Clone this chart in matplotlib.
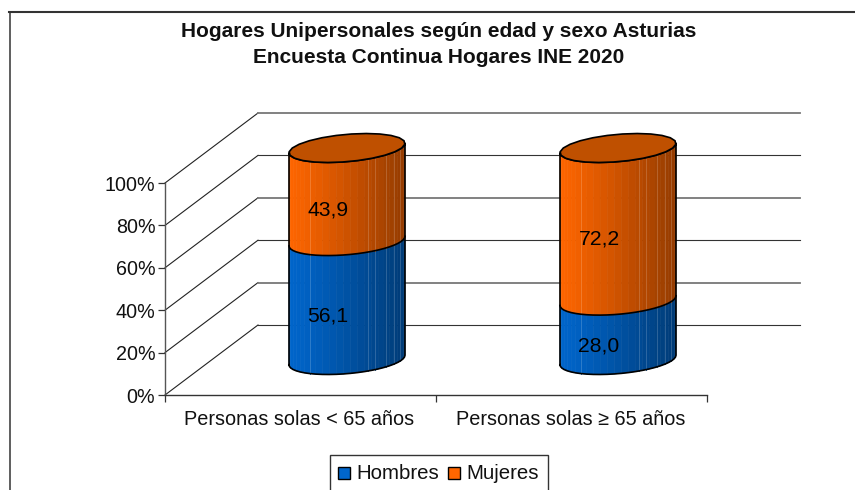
import numpy as np
import matplotlib
matplotlib.use("Agg")
import matplotlib.pyplot as plt
from matplotlib.patches import Polygon, Rectangle

plt.rcParams["font.family"] = ["Liberation Sans", "DejaVu Sans"]

categories = ["Personas solas < 65 años", "Personas solas ≥ 65 años"]
series_names = ["Hombres", "Mujeres"]
hombres = [56.1, 28.0]
mujeres = [43.9, 72.2]
labels_hombres = ["56,1", "28,0"]
labels_mujeres = ["43,9", "72,2"]
y_ticks = [0, 20, 40, 60, 80, 100]
title = "Hogares Unipersonales según edad y sexo Asturias\nEncuesta Continua Hogares INE 2020"

W, H = 855, 490
# floor of the 3d box, in data units per unit of depth
DEPTH_X = 93 / 271
DEPTH_Y = 70 / 2.12
# cylinder radius along the category axis / along the depth axis
RAD_X = 54.7 / 271
RAD_D = 0.207

COL_BLUE = np.array([0, 102, 204]) / 255
COL_ORANGE = np.array([255, 102, 0]) / 255
SEAMS = [21 / 116, 79 / 116, 86 / 116, 97 / 116, 105 / 116, 111 / 116]

fig = plt.figure(figsize=(W / 100, H / 100), dpi=100)
ax = fig.add_axes([165 / W, 1 - 395 / H, 542 / W, 212 / H])
ax.set_xlim(0, 2)
ax.set_ylim(0, 100)
ax.patch.set_visible(False)


def project(cat, pct, depth):
    return cat + depth * DEPTH_X, pct + depth * DEPTH_Y


def ring(center, pct, t):
    x = center + RAD_X * np.cos(t)
    d = 0.5 + RAD_D * np.sin(t)
    return project(x, pct, d)


def shade(base, frac):
    return base * (1 - 0.42 * frac ** 1.1)


def draw_segment(center, low, high, base):
    # front half of the wall, split in facets
    t0 = np.arctan2(RAD_D * DEPTH_X, RAD_X)
    u = np.linspace(0, np.pi, 26)
    t = t0 + np.pi + u
    xs, ys_low = ring(center, low, t)
    _, ys_high = ring(center, high, t)
    left, right = xs.min(), xs.max()
    for i in range(len(t) - 1):
        frac = ((xs[i] + xs[i + 1]) / 2 - left) / (right - left)
        quad = [(xs[i], ys_low[i]), (xs[i + 1], ys_low[i + 1]),
                (xs[i + 1], ys_high[i + 1]), (xs[i], ys_high[i])]
        ax.add_patch(Polygon(quad, closed=True, fc=shade(base, frac), ec=shade(base, frac),
                             lw=0.4, clip_on=False, zorder=3))
    for s in SEAMS:
        sx = left + s * (right - left)
        seam_low = np.interp(sx, xs, ys_low)
        seam_high = np.interp(sx, xs, ys_high)
        col = shade(base, s) * 0.82 + 0.18
        ax.plot([sx, sx], [seam_low, seam_high], color=col, lw=0.7, clip_on=False, zorder=3.5)
    return xs, ys_low, ys_high


# back wall gridlines and side wall diagonals
for i, v in enumerate(y_ticks):
    x0, y0 = project(0, v, 0)
    x1, y1 = project(0, v, 1)
    x2, y2 = project(2, v, 1)
    ax.plot([x0, x1], [y0, y1], color="#222222", lw=0.8, clip_on=False, zorder=1)
    if i % 2 == 0:
        ax.plot([x1, x2], [y1, y2], color="#333333", lw=0.8, clip_on=False, zorder=1)
    else:
        ax.plot([x1, x2], [y1, y2], color="#777777", lw=1.3, clip_on=False, zorder=1)

for k, center in enumerate([0.5, 1.5]):
    low = hombres[k]
    top = hombres[k] + mujeres[k]
    top = min(top, 100)
    xs, y0, y1 = draw_segment(center, 0, low, COL_BLUE)
    xs2, y2, y3 = draw_segment(center, low, top, COL_ORANGE)
    # top face
    tt = np.linspace(0, 2 * np.pi, 25)
    tx, ty = ring(center, top, tt)
    ax.add_patch(Polygon(np.c_[tx, ty], closed=True, fc="#BF5000", ec="black", lw=1.2,
                         clip_on=False, zorder=4))
    # outline of the body
    ox = np.r_[xs, xs[::-1], xs[0]]
    oy = np.r_[y0, y3[::-1], y0[0]]
    ax.plot(ox, oy, color="black", lw=1.2, clip_on=False, zorder=3.8)
    ax.plot(xs, y1, color="black", lw=1.2, clip_on=False, zorder=3.8)
    # value labels
    tx_c = center + 0.5 * DEPTH_X - 0.07
    ax.text(tx_c, low / 2 + 9.3, labels_hombres[k], ha="center", va="center", fontsize=15.2,
            color="black", zorder=5)
    ax.text(tx_c, low + mujeres[k] / 2 + 9.3, labels_mujeres[k], ha="center", va="center", fontsize=15.2,
            color="black", zorder=5)

for side in ["top", "right"]:
    ax.spines[side].set_visible(False)
ax.spines["left"].set_color("#555555")
ax.spines["bottom"].set_color("#333333")
ax.spines["left"].set_linewidth(1.0)
ax.spines["bottom"].set_linewidth(1.0)

ax.set_yticks(y_ticks)
ax.set_yticklabels([f"{v}%" for v in y_ticks], fontsize=14.2, color="#111111")
ax.set_xticks([0, 1, 2])
ax.set_xticklabels([])
ax.tick_params(axis="both", length=5, width=0.9, color="#333333", direction="out", pad=2)
for k, name in enumerate(categories):
    ax.text(k + 0.5 - 0.004, -6.9, name, ha="center", va="top", fontsize=14.3, color="#111111")

# chart frame, only left and top stay inside the picture
fig.add_artist(plt.Line2D([9.5 / W, 9.5 / W], [0, 1 - 12 / H], color="#333333", lw=1.1))
fig.add_artist(plt.Line2D([9 / W, 1], [1 - 12.5 / H, 1 - 12.5 / H], color="#333333", lw=1.5))

fig.text(439 / W, 1 - 44.5 / H, title, ha="center", va="center", fontsize=15, fontweight="bold",
         linespacing=1.47, color="#111111")

# legend box runs off the bottom edge
fig.add_artist(Rectangle((329.5 / W, -10 / H), 218 / W, (490 - 454.5 + 10) / H, transform=fig.transFigure,
                         fc="white", ec="#333333", lw=1.0))
for name, col, bx, tx in zip(series_names, [COL_BLUE, COL_ORANGE], [338, 448], [356, 466]):
    fig.add_artist(Rectangle((bx / W, 1 - 479 / H), 12 / W, 12 / H, transform=fig.transFigure,
                             fc=col, ec="black", lw=1.0))
    fig.text(tx / W, 1 - 473 / H, name, ha="left", va="center", fontsize=14.7, color="#111111")

fig.savefig("out.png", dpi=100)
